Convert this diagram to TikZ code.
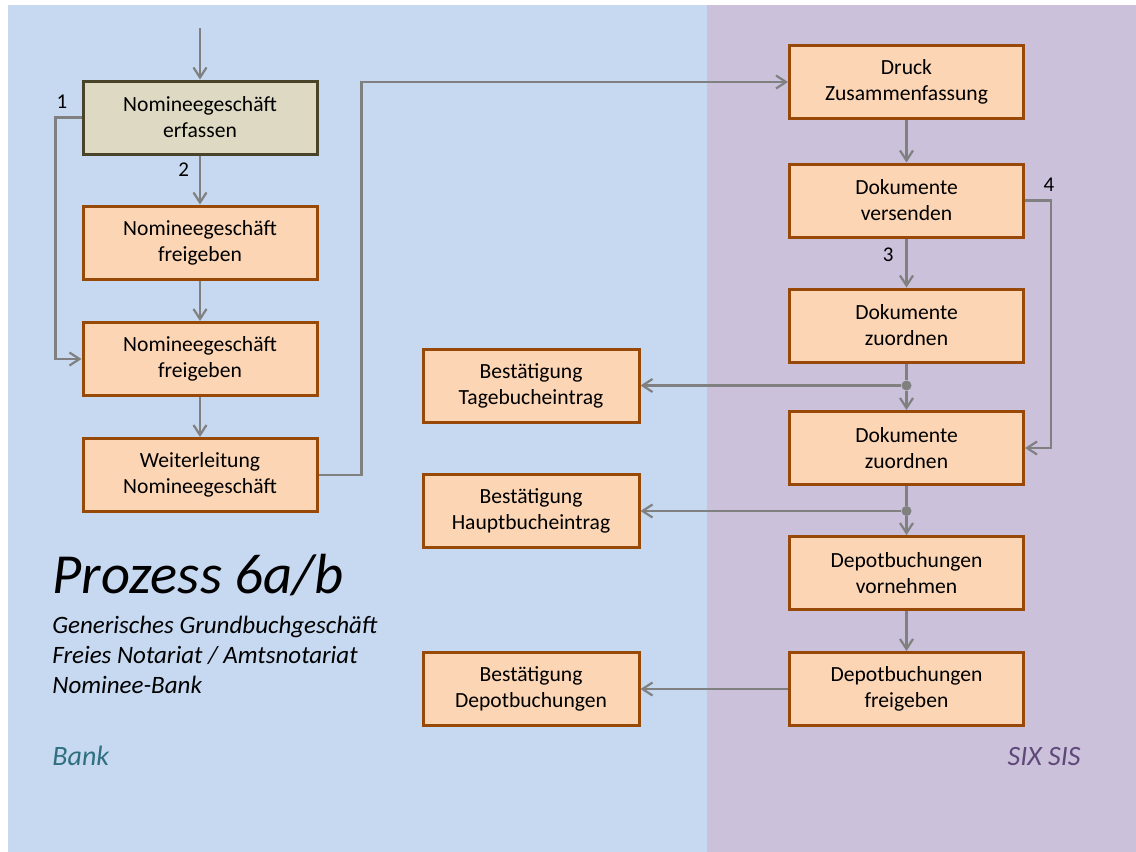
\documentclass[tikz,border=0pt]{standalone}
\usepackage{fontspec}
\setmainfont{Carlito}
\usetikzlibrary{arrows.meta,positioning}
\definecolor{bankbg}{HTML}{C6D9F1}
\definecolor{sixbg}{HTML}{CCC1DA}
\definecolor{boxfill}{HTML}{FCD5B5}
\definecolor{boxline}{HTML}{984807}
\definecolor{startfill}{HTML}{DDD9C3}
\definecolor{startline}{HTML}{494429}
\definecolor{flowgray}{HTML}{808080}
\definecolor{banktext}{HTML}{2F6F7F}
\definecolor{sixtext}{HTML}{5F497A}
\tikzset{
	stepbox/.style={rectangle,draw=boxline,fill=boxfill,line width=1.5pt,minimum width=117pt,minimum height=36.5pt,align=center,inner sep=0pt,font=\fontsize{10.8}{13}\selectfont},
	startbox/.style={stepbox,draw=startline,fill=startfill},
	notebox/.style={stepbox,minimum width=108pt},
	flow/.style={->,>={Straight Barb[length=5pt,width=6.5pt]},draw=flowgray,line width=1.1pt},
	numlabel/.style={font=\fontsize{10.5}{12}\selectfont,inner sep=1pt},
	junction/.style={circle,fill=flowgray,inner sep=0pt,minimum size=5pt},
	lanetext/.style={font=\fontsize{14}{16}\selectfont\itshape,inner sep=0pt}
}
\begin{document}
\begin{tikzpicture}[x=0.5pt,y=-0.5pt]
		\useasboundingbox (0,0) rectangle (1136,852);
		%%%lanes
		\fill[bankbg] (8,5) rectangle (707,852);
		\fill[sixbg] (707,5) rectangle (1136,852);
		
		%%%Bank
		\node[startbox] (erf) at (200,117.5) {Nomineegeschäft\\erfassen};
		\node[stepbox] (frei1) at (200,242.5) {Nomineegeschäft\\freigeben};
		\node[stepbox] (frei2) at (200,359) {Nomineegeschäft\\freigeben};
		\node[stepbox] (weiter) at (200,475) {Weiterleitung\\Nomineegeschäft};
		\node[notebox] (tage) at (531,385.5) {Bestätigung\\Tagebucheintrag};
		\node[notebox] (haupt) at (531,511) {Bestätigung\\Hauptbucheintrag};
		\node[notebox] (depbest) at (531,689) {Bestätigung\\Depotbuchungen};
		
		%%%SIX SIS
		\node[stepbox] (druck) at (906.5,82) {Druck\\Zusammenfassung};
		\node[stepbox] (vers) at (906.5,200.5) {Dokumente\\versenden};
		\node[stepbox] (zuord1) at (906.5,325.5) {Dokumente\\zuordnen};
		\node[stepbox] (zuord2) at (906.5,448) {Dokumente\\zuordnen};
		\node[stepbox] (depvor) at (906.5,573) {Depotbuchungen\\vornehmen};
		\node[stepbox] (depfrei) at (906.5,689) {Depotbuchungen\\freigeben};
		
		\node[junction] (j1) at (906.5,385.5) {};
		\node[junction] (j2) at (906.5,511) {};
		\coordinate (start) at (200,28);
		
		%%%text
		\node[anchor=base west,inner sep=0pt,font=\fontsize{28.3}{32}\selectfont\itshape] (title) at (52,593) {Prozess 6a/b};
		\node[anchor=base west,inner sep=0pt,align=left,font=\fontsize{12.5}{15}\selectfont\itshape] (sub) at (52,693) {Generisches Grundbuchgeschäft\\Freies Notariat / Amtsnotariat\\Nominee-Bank};
		\node[lanetext,text=banktext,anchor=base west] (bank) at (52,765) {Bank};
		\node[lanetext,text=sixtext,anchor=base east] (six) at (1081,765) {SIX SIS};
		
		%%%flows
		\draw[flow] (start) -- (erf);
		\draw[flow] (erf) -- node[numlabel,left,xshift=-4pt,yshift=5pt] {2} (frei1);
		\draw[flow] (frei1) -- (frei2);
		\draw[flow] (frei2) -- (weiter);
		\draw[flow] (erf.west) -- ++(-26,0) node[numlabel,above right,xshift=-1pt,yshift=3pt] {1} |- (frei2.west);
		\draw[flow] (weiter.east) -- ++(43,0) |- (druck.west);
		\draw[flow] (druck) -- (vers);
		\draw[flow] (vers) -- node[numlabel,left,xshift=-5pt,yshift=4pt] {3} (zuord1);
		\draw[flow] (vers.east) -- ++(26,0) node[numlabel,above,xshift=-1pt,yshift=3pt] {4} |- (zuord2.east);
		\draw[draw=flowgray,line width=1.1pt] (zuord1) -- (j1);
		\draw[flow] (j1) -- (zuord2);
		\draw[flow] (j1) -- (tage);
		\draw[draw=flowgray,line width=1.1pt] (zuord2) -- (j2);
		\draw[flow] (j2) -- (depvor);
		\draw[flow] (j2) -- (haupt);
		\draw[flow] (depvor) -- (depfrei);
		\draw[flow] (depfrei) -- (depbest);
\end{tikzpicture}
\end{document}
